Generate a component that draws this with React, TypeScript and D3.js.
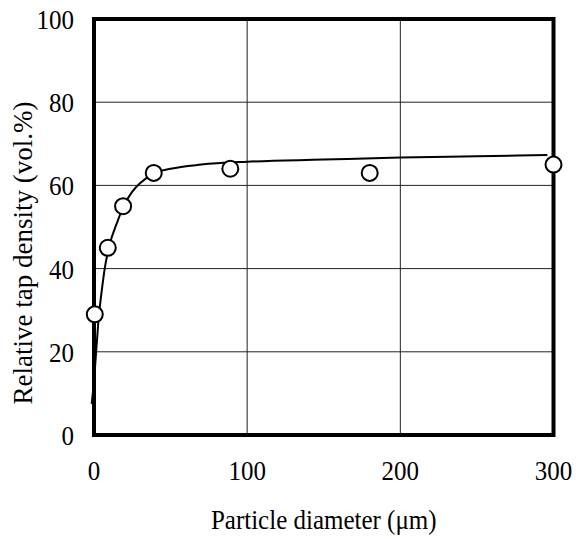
import React from "react";
import * as d3 from "d3";

const pointX = [0.5, 9, 19, 39, 89, 180, 300];
const pointY = [29, 45, 55, 63, 64, 63, 65];

const curveX = [-1.5, 0, 1, 2, 3, 5, 7, 10, 15, 20, 25, 30, 40, 50, 70, 100, 150, 200, 250, 296];
const curveY = [7.5, 13, 18, 23, 28, 34.5, 40, 45.5, 51, 55.5, 58.5, 60.5, 63, 64, 65, 65.7, 66.2, 66.7, 67, 67.3];

const xTicks = [0, 100, 200, 300];
const yTicks = [0, 20, 40, 60, 80, 100];

const FONT = "Liberation Serif, DejaVu Serif, serif";
const FS = 25;
const SY = 1.1;

export default function App() {
  const W = 576, H = 539;
  const x = d3.scaleLinear().domain([0, 300]).range([94, 553.5]);
  const y = d3.scaleLinear().domain([0, 100]).range([435, 19]);
  const line = d3
    .line<number>()
    .x((_, i) => x(curveX[i]))
    .y((d) => y(d))
    .curve(d3.curveMonotoneX);
  const [x0, x1] = x.range();
  const [y0, y1] = y.range();
  const ts = { fontFamily: FONT, fontSize: FS };
  return (
    <svg
      width={W}
      height={H}
      style={{ position: "absolute", left: 0, top: 0, background: "#fff" }}
    >
      <rect x={0} y={0} width={W} height={H} fill="#fff" />
      {xTicks.slice(1, -1).map((t) => (
        <line key={"gx" + t} x1={x(t)} x2={x(t)} y1={y1} y2={y0} stroke="#222" strokeWidth={1} />
      ))}
      {yTicks.slice(1, -1).map((t) => (
        <line key={"gy" + t} x1={x0} x2={x1} y1={y(t)} y2={y(t)} stroke="#222" strokeWidth={1} />
      ))}
      <path d={line(curveY) || ""} fill="none" stroke="#000" strokeWidth={2} />
      <rect
        x={x0}
        y={y1}
        width={x1 - x0}
        height={y0 - y1}
        fill="none"
        stroke="#000"
        strokeWidth={4}
      />
      {pointX.map((px, i) => (
        <circle key={"p" + i} cx={x(px)} cy={y(pointY[i])} r={8} fill="#fff" stroke="#000" strokeWidth={2} />
      ))}
      {yTicks.map((t) => (
        <text
          key={"ty" + t}
          transform={`translate(74,${y(t) + 10}) scale(1,${SY})`}
          textAnchor="end"
          style={ts}
          fill="#000"
        >
          {t}
        </text>
      ))}
      {xTicks.map((t) => (
        <text
          key={"tx" + t}
          transform={`translate(${x(t)},480) scale(1,${SY})`}
          textAnchor="middle"
          style={ts}
          fill="#000"
        >
          {t}
        </text>
      ))}
      <text
        transform={`translate(${(x0 + x1) / 2},529) scale(1,${SY})`}
        textAnchor="middle"
        style={ts}
        fill="#000"
      >
        Particle diameter (μm)
      </text>
      <text
        transform={`translate(32,253) rotate(-90)`}
        textAnchor="middle"
        style={{ fontFamily: FONT, fontSize: 27 }}
        fill="#000"
      >
        Relative tap density (vol.%)
      </text>
    </svg>
  );
}
